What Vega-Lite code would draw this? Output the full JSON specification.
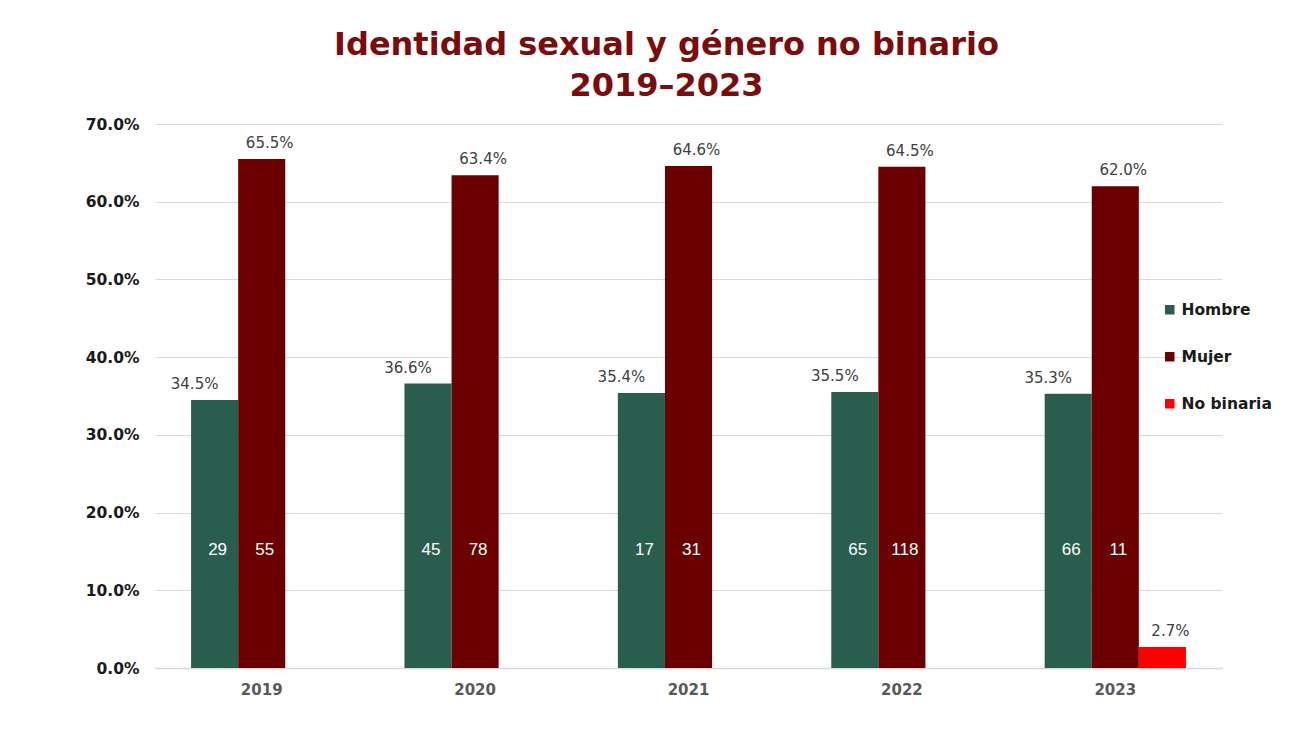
{
  "$schema": "https://vega.github.io/schema/vega-lite/v6.json",
  "width": 1067,
  "height": 544,
  "autosize": {"type": "none"},
  "padding": {"left": 155, "top": 124, "right": 80, "bottom": 67},
  "background": "white",
  "title": {
    "text": ["Identidad sexual y género no binario", "2019–2023"],
    "font": "DejaVu Sans",
    "fontSize": 32,
    "fontWeight": "bold",
    "color": "#7a0c0c",
    "anchor": "middle",
    "dx": -22,
    "offset": 14,
    "lineHeight": 41
  },
  "config": {"view": {"stroke": null}},
  "data": {
    "values": [
      {"anio": "2019", "genero": "Hombre", "pct": 34.5, "n": "29"},
      {"anio": "2019", "genero": "Mujer", "pct": 65.5, "n": "55"},
      {"anio": "2020", "genero": "Hombre", "pct": 36.6, "n": "45"},
      {"anio": "2020", "genero": "Mujer", "pct": 63.4, "n": "78"},
      {"anio": "2021", "genero": "Hombre", "pct": 35.4, "n": "17"},
      {"anio": "2021", "genero": "Mujer", "pct": 64.6, "n": "31"},
      {"anio": "2022", "genero": "Hombre", "pct": 35.5, "n": "65"},
      {"anio": "2022", "genero": "Mujer", "pct": 64.5, "n": "118"},
      {"anio": "2023", "genero": "Hombre", "pct": 35.3, "n": "66"},
      {"anio": "2023", "genero": "Mujer", "pct": 62.0, "n": "11"},
      {"anio": "2023", "genero": "No binaria", "pct": 2.7, "n": ""}
    ]
  },
  "encoding": {
    "x": {
      "field": "anio",
      "type": "nominal",
      "scale": {"paddingInner": 0.338, "paddingOuter": 0.169},
      "axis": {
        "title": null,
        "labelAngle": 0,
        "labelFont": "DejaVu Sans",
        "labelFontSize": 15,
        "labelFontWeight": "bold",
        "labelColor": "#595959",
        "labelPadding": 14,
        "ticks": false,
        "domainColor": "#d9d9d9",
        "domainWidth": 1.5
      }
    },
    "xOffset": {
      "field": "genero",
      "type": "nominal",
      "scale": {"domain": ["Hombre", "Mujer", "No binaria"], "paddingInner": 0, "paddingOuter": 0}
    }
  },
  "layer": [
    {
      "mark": {"type": "bar"},
      "encoding": {
        "y": {
          "field": "pct",
          "type": "quantitative",
          "scale": {"domain": [0, 70], "nice": false},
          "axis": {
            "title": null,
            "values": [0, 10, 20, 30, 40, 50, 60, 70],
            "labelExpr": "format(datum.value, '.1f') + '%'",
            "labelFont": "DejaVu Sans",
            "labelFontSize": 15.5,
            "labelFontWeight": "bold",
            "labelColor": "#1a1a1a",
            "labelPadding": 16,
            "ticks": false,
            "domain": false,
            "gridColor": "#d9d9d9",
            "gridWidth": 1.2
          }
        },
        "color": {
          "field": "genero",
          "type": "nominal",
          "scale": {"domain": ["Hombre", "Mujer", "No binaria"], "range": ["#295e4e", "#6b0000", "#ff0000"]},
          "legend": {
            "title": null,
            "orient": "none",
            "legendX": 1007,
            "legendY": 178,
            "symbolType": "square",
            "symbolSize": 90,
            "symbolStrokeWidth": 0,
            "rowPadding": 30,
            "labelFont": "DejaVu Sans",
            "labelFontSize": 15.5,
            "labelFontWeight": "bold",
            "labelColor": "#1a1a1a",
            "labelOffset": 4
          }
        }
      }
    },
    {
      "transform": [{"filter": "datum.genero === 'Hombre'"}, {"calculate": "format(datum.pct, '.1f') + '%'", "as": "lbl"}],
      "mark": {"type": "text", "font": "DejaVu Sans", "fontSize": 15, "color": "#404040", "baseline": "bottom", "dy": -8, "dx": -20},
      "encoding": {
        "y": {"field": "pct", "type": "quantitative"},
        "text": {"field": "lbl", "type": "nominal"}
      }
    },
    {
      "transform": [{"filter": "datum.genero !== 'Hombre'"}, {"calculate": "format(datum.pct, '.1f') + '%'", "as": "lbl"}],
      "mark": {"type": "text", "font": "DejaVu Sans", "fontSize": 15, "color": "#404040", "baseline": "bottom", "dy": -8, "dx": 8},
      "encoding": {
        "y": {"field": "pct", "type": "quantitative"},
        "text": {"field": "lbl", "type": "nominal"}
      }
    },
    {
      "mark": {"type": "text", "font": "Liberation Sans", "fontSize": 17, "color": "white", "baseline": "middle", "dx": 3},
      "encoding": {
        "y": {"datum": 15.2},
        "text": {"field": "n", "type": "nominal"}
      }
    }
  ]
}
